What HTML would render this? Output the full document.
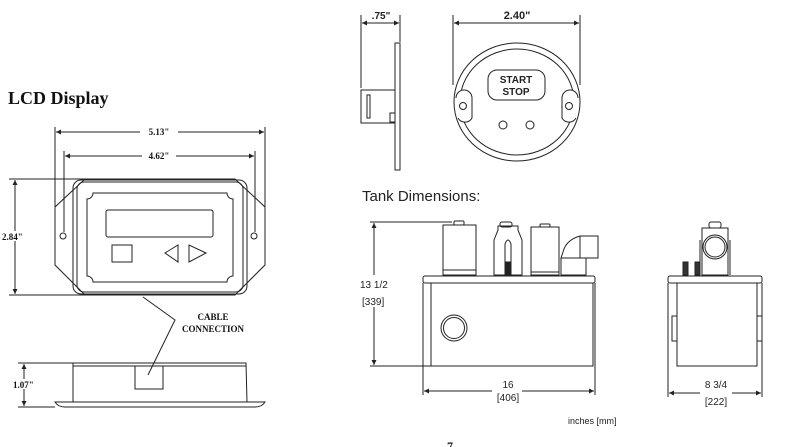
<!DOCTYPE html>
<html><head><meta charset="utf-8"><style>
html,body{margin:0;padding:0;background:#fff;width:791px;height:447px;overflow:hidden}
svg{display:block}
.s{font-family:"Liberation Serif",serif;font-weight:bold;fill:#111}
.a{font-family:"Liberation Sans",sans-serif;fill:#222}
</style></head><body>
<svg width="791" height="447" viewBox="0 0 791 447" fill="none" stroke="#222" stroke-width="1">
<defs>
<marker id="ar" viewBox="0 0 10 10" refX="10" refY="5" markerWidth="8" markerHeight="5" orient="auto-start-reverse"><path d="M0,0 L10,5 L0,10z" fill="#222" stroke="none"/></marker>
</defs>
<!-- LCD -->
<text x="8" y="104" class="s" font-size="18" stroke="none">LCD Display</text>
<line x1="55" y1="127" x2="55" y2="207"/><line x1="265" y1="127" x2="265" y2="207"/>
<line x1="56" y1="132" x2="264" y2="132" marker-start="url(#ar)" marker-end="url(#ar)"/>
<rect x="140" y="127" width="38" height="9" fill="#fff" stroke="none"/>
<text x="159" y="135" class="s" font-size="9" text-anchor="middle" stroke="none">5.13"</text>
<line x1="64" y1="151" x2="64" y2="232"/><line x1="255" y1="151" x2="255" y2="232"/>
<line x1="65" y1="156" x2="254" y2="156" marker-start="url(#ar)" marker-end="url(#ar)"/>
<rect x="142" y="151" width="34" height="9" fill="#fff" stroke="none"/>
<text x="159" y="159" class="s" font-size="9" text-anchor="middle" stroke="none">4.62"</text>
<path d="M85,179 L235,179 L265,207 L265,265 L235,295 L85,295 L55,265 L55,207 Z"/>
<rect x="73" y="180" width="174" height="114" rx="8"/>
<rect x="77" y="182" width="166" height="110" rx="7"/>
<path d="M93,193 L227,193 A6,6 0 0 0 233,199 L233,276 A6,6 0 0 0 227,282 L93,282 A6,6 0 0 0 87,276 L87,199 A6,6 0 0 0 93,193 Z"/>
<rect x="106" y="210" width="107" height="27" rx="2"/>
<rect x="112" y="245" width="20" height="17"/>
<path d="M165,253 L178,245 L178,262 Z M206,253 L189,245 L189,262 Z"/>
<circle cx="63" cy="236" r="3"/><circle cx="254" cy="236" r="3"/>
<line x1="9" y1="179" x2="85" y2="179"/><line x1="9" y1="295" x2="85" y2="295"/>
<line x1="15" y1="180" x2="15" y2="294" marker-start="url(#ar)" marker-end="url(#ar)"/>
<rect x="1" y="231" width="28" height="10" fill="#fff" stroke="none"/>
<text x="2" y="240" class="s" font-size="9" stroke="none">2.84"</text>
<path d="M143,297 L175,320 L148,375"/>
<text x="213" y="320" class="s" font-size="9" text-anchor="middle" stroke="none">CABLE</text>
<text x="213" y="332" class="s" font-size="9" text-anchor="middle" stroke="none">CONNECTION</text>
<path d="M73,363 L246,363 L247,402 M73,363 L73,402"/>
<line x1="73" y1="366" x2="246" y2="366"/>
<rect x="135" y="366" width="28" height="23"/>
<path d="M55,402 L265,402 Q262,407 255,407 L65,407 Q58,407 55,402 Z"/>
<line x1="18" y1="363" x2="73" y2="363"/><line x1="18" y1="407" x2="55" y2="407"/>
<line x1="24" y1="364" x2="24" y2="406" marker-start="url(#ar)" marker-end="url(#ar)"/>
<rect x="12" y="379" width="26" height="10" fill="#fff" stroke="none"/>
<text x="13" y="388" class="s" font-size="9" stroke="none">1.07"</text>
<!-- round meter side -->
<line x1="361" y1="15" x2="361" y2="88"/><line x1="400" y1="15" x2="400" y2="42"/>
<line x1="362" y1="23" x2="399" y2="23" marker-start="url(#ar)" marker-end="url(#ar)"/>
<text x="381" y="19" class="a" font-size="10" font-weight="bold" text-anchor="middle" stroke="none">.75"</text>
<rect x="395" y="43" width="5" height="127"/>
<rect x="361" y="90" width="34" height="33"/>
<rect x="367" y="95" width="3" height="23"/>
<rect x="390" y="113" width="5" height="9"/>
<!-- round meter front -->
<line x1="453" y1="15" x2="453" y2="85"/><line x1="580" y1="15" x2="580" y2="85"/>
<line x1="454" y1="23" x2="579" y2="23" marker-start="url(#ar)" marker-end="url(#ar)"/>
<text x="517" y="19" class="a" font-size="11" font-weight="bold" text-anchor="middle" stroke="none">2.40"</text>
<ellipse cx="517" cy="102" rx="63" ry="59"/>
<ellipse cx="517" cy="102" rx="57" ry="53"/>
<path d="M456,98 A8,8 0 0 1 472,98 L472,118 A8,8 0 0 1 458,118" fill="#fff"/>
<path d="M578,98 A8,8 0 0 0 562,98 L562,118 A8,8 0 0 0 576,118" fill="#fff"/>
<circle cx="463" cy="106" r="3.5"/><circle cx="569" cy="106" r="3.5"/>
<rect x="488" y="70" width="57" height="30" rx="9"/>
<text x="516" y="83" class="a" font-size="10" font-weight="bold" text-anchor="middle" stroke="none">START</text>
<text x="516" y="95" class="a" font-size="10" font-weight="bold" text-anchor="middle" stroke="none">STOP</text>
<circle cx="503" cy="125" r="4"/><circle cx="530" cy="125" r="4"/>
<!-- tank -->
<text x="362" y="201" class="a" font-size="15" stroke="none">Tank Dimensions:</text>
<rect x="423" y="276" width="172" height="7" rx="2"/>
<path d="M431,283 L431,366 L593,366 L593,283"/>
<line x1="423" y1="283" x2="423" y2="395"/><line x1="595" y1="283" x2="595" y2="395"/>
<circle cx="454" cy="328" r="13"/><circle cx="454" cy="328" r="10.5"/>
<line x1="370" y1="222" x2="452" y2="222"/><line x1="370" y1="366" x2="431" y2="366"/>
<line x1="374" y1="223" x2="374" y2="365" marker-start="url(#ar)" marker-end="url(#ar)"/>
<rect x="358" y="275" width="34" height="32" fill="#fff" stroke="none"/>
<text x="360" y="288" class="a" font-size="10" stroke="none">13 1/2</text>
<text x="362" y="305" class="a" font-size="10" stroke="none">[339]</text>
<line x1="424" y1="391" x2="594" y2="391" marker-start="url(#ar)" marker-end="url(#ar)"/>
<rect x="492" y="378" width="30" height="24" fill="#fff" stroke="none"/>
<text x="508" y="388" class="a" font-size="10" text-anchor="middle" stroke="none">16</text>
<text x="508" y="401" class="a" font-size="10" text-anchor="middle" stroke="none">[406]</text>
<rect x="443" y="225" width="33" height="50"/><line x1="443" y1="270" x2="476" y2="270"/>
<rect x="454" y="221" width="10" height="4" rx="1"/>
<path d="M494,275 L494,240 L498,230 L498,226 L518,226 L518,230 L522,240 L522,275 Z"/>
<path d="M505,275 L505,244 Q508,236 511,244 L511,275"/>
<rect x="500" y="222" width="12" height="5" rx="2"/>
<rect x="506" y="262" width="5" height="12" fill="#222"/>
<rect x="531" y="227" width="28" height="48"/><line x1="531" y1="272" x2="559" y2="272"/>
<rect x="540" y="224" width="10" height="3" rx="1"/>
<path d="M561,275 L561,258 L598,258 L598,236 L580,236 Q566,240 563,252 L561,258 M580,236 L580,258 M561,258 L561,275 L586,275 L586,258"/>
<!-- tank side -->
<rect x="668" y="276" width="94" height="7" rx="2"/>
<path d="M677,283 L677,366 L757,366 L757,283"/>
<line x1="668" y1="283" x2="668" y2="397"/><line x1="762" y1="283" x2="762" y2="397"/>
<rect x="672" y="316" width="5" height="25"/><rect x="757" y="316" width="5" height="25"/>
<rect x="702" y="228" width="26" height="47"/>
<path d="M700,240 L700,275 M730,240 L730,275"/>
<circle cx="715" cy="247" r="12"/><circle cx="715" cy="247" r="10"/>
<rect x="709" y="222" width="12" height="6" rx="2"/>
<rect x="683" y="262" width="5" height="13" fill="#333"/><rect x="695" y="262" width="5" height="13" fill="#333"/>
<line x1="669" y1="393" x2="761" y2="393" marker-start="url(#ar)" marker-end="url(#ar)"/>
<rect x="700" y="378" width="32" height="26" fill="#fff" stroke="none"/>
<text x="716" y="388" class="a" font-size="10" text-anchor="middle" stroke="none">8 3/4</text>
<text x="716" y="405" class="a" font-size="10" text-anchor="middle" stroke="none">[222]</text>
<text x="568" y="424" class="a" font-size="9" stroke="none">inches [mm]</text>
<text x="447" y="450" class="s" font-size="12" stroke="none">7</text>
</svg>
</body></html>
